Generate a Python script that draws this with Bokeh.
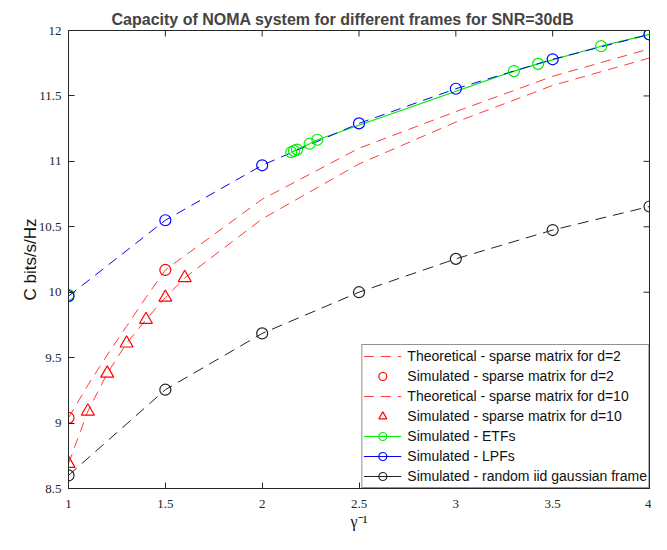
import math
from bokeh.plotting import figure
from bokeh.models import Legend, LegendItem, Range1d, FixedTicker
from bokeh.embed import file_html
from bokeh.resources import INLINE

title_text = "Capacity of NOMA system for different frames for SNR=30dB"
x_label = "γ⁻¹"
y_label = "C bits/s/Hz"
x_ticks = [1, 1.5, 2, 2.5, 3, 3.5, 4]
y_ticks = [8.5, 9, 9.5, 10, 10.5, 11, 11.5, 12]

theo_d2_x = [1, 1.1, 1.2, 1.3, 1.4, 1.5, 2, 2.5, 3, 3.5, 4]
theo_d2_y = [9.04, 9.29, 9.52, 9.74, 9.96, 10.17, 10.71, 11.10, 11.38, 11.65, 11.86]
sim_d2_x = [1, 1.5]
sim_d2_y = [9.04, 10.17]
theo_d10_x = [1, 1.1, 1.2, 1.3, 1.4, 1.5, 1.6, 2, 2.5, 3, 3.5, 4]
theo_d10_y = [8.69, 9.09, 9.38, 9.61, 9.79, 9.96, 10.11, 10.56, 10.98, 11.30, 11.58, 11.79]
sim_d10_x = [1, 1.1, 1.2, 1.3, 1.4, 1.5, 1.6]
sim_d10_y = [8.69, 9.09, 9.38, 9.61, 9.79, 9.96, 10.11]
etf_x = [1, 2.15, 2.165, 2.18, 2.245, 2.285, 3.3, 3.425, 3.75, 4]
etf_y = [9.98, 11.07, 11.08, 11.09, 11.135, 11.165, 11.69, 11.745, 11.88, 11.97]
lpf_x = [1, 1.5, 2, 2.5, 3, 3.5, 4]
lpf_y = [9.97, 10.55, 10.97, 11.29, 11.555, 11.78, 11.97]
iid_x = [1, 1.5, 2, 2.5, 3, 3.5, 4]
iid_y = [8.60, 9.255, 9.685, 10.0, 10.255, 10.475, 10.655]

RED_LINE = "#ff3b3b"
RED = "#ff0000"
GREEN = "#00ee00"
BLUE = "#0000ff"
BLACK = "#222222"
AX = "#262626"

p = figure(width=651, height=534, output_backend="svg", toolbar_location=None,
           x_range=Range1d(x_ticks[0], x_ticks[-1]), y_range=Range1d(y_ticks[0], y_ticks[-1]),
           min_border_left=68, min_border_right=2, min_border_top=30, min_border_bottom=46,
           x_axis_label=x_label, y_axis_label=y_label)
# an off-screen range used only for the solid legend samples
p.extra_x_ranges = {"legend_only": Range1d(1000, 1001)}

p.title.text = title_text
p.title.text_font = "Liberation Sans"
p.title.text_font_style = "bold"
p.title.text_font_size = "16px"
p.title.align = "left"
p.title.offset = 43
p.title.standoff = 5

p.xgrid.visible = False
p.ygrid.visible = False
p.outline_line_color = AX
p.outline_line_width = 1
p.background_fill_color = "white"

for ax in (p.xaxis[0], p.yaxis[0]):
    ax.major_tick_in = 6
    ax.major_tick_out = 0
    ax.minor_tick_line_color = None
    ax.axis_line_color = AX
    ax.major_tick_line_color = AX
    ax.major_label_text_font = "Liberation Serif"
    ax.major_label_text_font_size = "13px"
    ax.major_label_text_color = AX
    ax.axis_label_text_font_style = "normal"
    ax.axis_label_text_color = "#111111"

p.xaxis[0].ticker = FixedTicker(ticks=x_ticks)
p.yaxis[0].ticker = FixedTicker(ticks=y_ticks)
p.xaxis[0].major_label_standoff = 11
p.yaxis[0].major_label_standoff = 7
p.xaxis[0].axis_label_text_font = "Liberation Serif"
p.xaxis[0].axis_label_text_font_size = "16px"
p.xaxis[0].axis_label_standoff = 2
p.yaxis[0].axis_label_text_font = "Liberation Sans"
p.yaxis[0].axis_label_text_font_size = "17px"
p.yaxis[0].axis_label_standoff = -4

# mirrored inward ticks on the top and right edges of the box
p.ray(x=x_ticks, y=[y_ticks[-1]] * len(x_ticks), length=6, length_units="screen",
      angle=-math.pi / 2, line_color=AX, line_width=1)
p.ray(x=[x_ticks[-1]] * len(y_ticks), y=y_ticks, length=6, length_units="screen",
      angle=math.pi, line_color=AX, line_width=1)

r_theo2 = p.line(theo_d2_x, theo_d2_y, line_color=RED_LINE, line_width=1, line_dash="10 7")
r_theo10 = p.line(theo_d10_x, theo_d10_y, line_color=RED_LINE, line_width=1, line_dash="10 7")
r_iid_line = p.line(iid_x, iid_y, line_color=BLACK, line_width=1, line_dash="11 7")
r_etf_line = p.line(etf_x[1:], etf_y[1:], line_color=GREEN, line_width=1.2)
r_lpf_line = p.line(lpf_x, lpf_y, line_color=BLUE, line_width=1, line_dash="10 7")

r_sim2 = p.scatter(sim_d2_x, sim_d2_y, marker="circle", size=11, fill_color=None,
                   line_color=RED, line_width=1.2)
r_sim10 = p.scatter(sim_d10_x, sim_d10_y, marker="triangle", size=13, fill_color=None,
                    line_color=RED, line_width=1.2)
r_iid = p.scatter(iid_x, iid_y, marker="circle", size=11, fill_color=None,
                  line_color=BLACK, line_width=1.2)
r_etf = p.scatter(etf_x, etf_y, marker="circle", size=11, fill_color=None,
                  line_color=GREEN, line_width=1.2)
r_lpf = p.scatter(lpf_x, lpf_y, marker="circle", size=11, fill_color=None,
                  line_color=BLUE, line_width=1.2)

# solid legend samples: same data, mapped onto the off-screen range
leg_lpf_line = p.line(lpf_x, lpf_y, line_color=BLUE, line_width=1, x_range_name="legend_only")
leg_iid_line = p.line(iid_x, iid_y, line_color=BLACK, line_width=1, x_range_name="legend_only")

legend = Legend(items=[
    LegendItem(label="Theoretical - sparse matrix for d=2", renderers=[r_theo2]),
    LegendItem(label="Simulated - sparse matrix for d=2", renderers=[r_sim2]),
    LegendItem(label="Theoretical - sparse matrix for d=10", renderers=[r_theo10]),
    LegendItem(label="Simulated - sparse matrix for d=10", renderers=[r_sim10]),
    LegendItem(label="Simulated - ETFs", renderers=[r_etf_line, r_etf]),
    LegendItem(label="Simulated - LPFs", renderers=[leg_lpf_line, r_lpf]),
    LegendItem(label="Simulated - random iid gaussian frame", renderers=[leg_iid_line, r_iid]),
], location="bottom_right", margin=0, padding=1, spacing=0, label_height=20,
    glyph_height=20, glyph_width=38, label_standoff=6,
    label_text_font="Liberation Sans", label_text_font_size="14px",
    label_text_color="#111111", border_line_color=AX, border_line_width=1,
    background_fill_color="white", background_fill_alpha=1)
p.add_layout(legend)

open("out.html", "w").write(file_html(p, INLINE))
